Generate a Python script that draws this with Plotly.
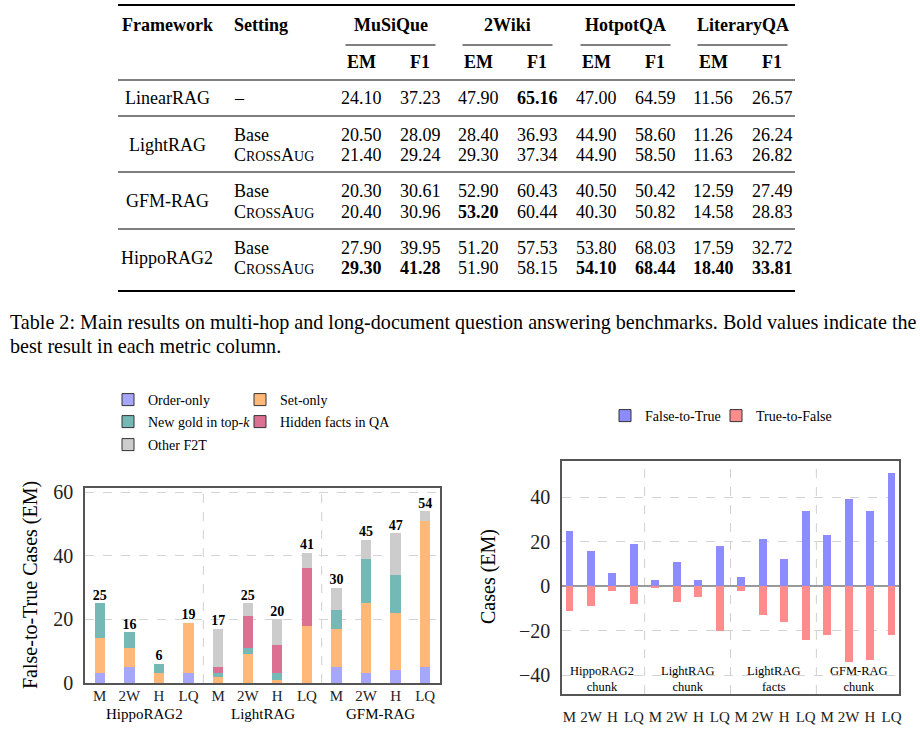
import plotly.graph_objects as go

W, H = 920, 729
FONT = 'Liberation Serif'

# ---------------- Table 2 data ----------------
datasets = ['MuSiQue', '2Wiki', 'HotpotQA', 'LiteraryQA']
metrics = ['EM', 'F1']
frameworks = ['LinearRAG', 'LightRAG', 'GFM-RAG', 'HippoRAG2']
settings = [['–'], ['Base', 'CrossAug'], ['Base', 'CrossAug'], ['Base', 'CrossAug']]
linearrag = [24.10, 37.23, 47.90, 65.16, 47.00, 64.59, 11.56, 26.57]
lightrag_base = [20.50, 28.09, 28.40, 36.93, 44.90, 58.60, 11.26, 26.24]
lightrag_aug = [21.40, 29.24, 29.30, 37.34, 44.90, 58.50, 11.63, 26.82]
gfmrag_base = [20.30, 30.61, 52.90, 60.43, 40.50, 50.42, 12.59, 27.49]
gfmrag_aug = [20.40, 30.96, 53.20, 60.44, 40.30, 50.82, 14.58, 28.83]
hipporag_base = [27.90, 39.95, 51.20, 57.53, 53.80, 68.03, 17.59, 32.72]
hipporag_aug = [29.30, 41.28, 51.90, 58.15, 54.10, 68.44, 18.40, 33.81]
caption = ['Table 2: Main results on multi-hop and long-document question answering benchmarks. Bold values indicate the',
           'best result in each metric column.']

# ---------------- left chart: false-to-true breakdown ----------------
f2t_groups = ['HippoRAG2', 'LightRAG', 'GFM-RAG']
short_names = ['M', '2W', 'H', 'LQ']
order_only = [3, 5, 0, 3, 0, 0, 0, 0, 5, 3, 4, 5]
set_only = [11, 6, 3, 16, 2, 9, 1, 18, 12, 22, 18, 46]
new_gold = [11, 5, 3, 0, 1, 2, 2, 0, 6, 14, 12, 0]
hidden_facts = [0, 0, 0, 0, 2, 10, 9, 18, 0, 0, 0, 0]
other_f2t = [0, 0, 0, 0, 12, 4, 8, 5, 7, 6, 13, 3]

# ---------------- right chart: F2T vs T2F ----------------
swap_groups = ['HippoRAG2<br>chunk', 'LightRAG<br>chunk', 'LightRAG<br>facts', 'GFM-RAG<br>chunk']
false_to_true = [25, 16, 6, 19, 3, 11, 3, 18, 4, 21, 12, 34, 23, 39, 34, 51]
true_to_false = [-11, -9, -2, -8, -1, -7, -5, -20, -2, -13, -16, -24, -22, -34, -33, -22]


def px(x):
    return x / W


def py(y):
    return 1 - y / H


ann = []
shapes = []


def text(x, y, s, size=18, anchor='center', bold=False, angle=0):
    ann.append(dict(x=px(x), y=py(y), xref='paper', yref='paper',
                    text=f'<b>{s}</b>' if bold else s, showarrow=False,
                    xanchor=anchor, yanchor='middle', textangle=angle,
                    font=dict(family=FONT, size=size, color='black')))


def rule(x0, x1, y, w):
    shapes.append(dict(type='line', xref='paper', yref='paper', x0=px(x0), x1=px(x1),
                       y0=py(y), y1=py(y), line=dict(color='black', width=w)))


def small_caps(s):
    if s != 'CrossAug':
        return s
    sm = "<span style='font-size:14px'>%s</span>"
    return 'C' + sm % 'ROSS' + 'A' + sm % 'UG'


# ---- table layout ----
col_x = [361, 420, 478, 537, 596, 655, 713, 772]
rule(118, 795, 5, 2)
text(167, 25, 'Framework', bold=True)
text(232, 25, 'Setting', bold=True, anchor='left')
for i, d in enumerate(datasets):
    cx = (col_x[2 * i] + col_x[2 * i + 1]) / 2
    text(cx, 25, d, bold=True)
    rule(cx - 45, cx + 45, 45, 1)
    for j, m in enumerate(metrics):
        text(col_x[2 * i + j], 62, m, bold=True)
rule(118, 795, 80, 1.2)

all_rows = [linearrag, lightrag_base, lightrag_aug, gfmrag_base, gfmrag_aug, hipporag_base, hipporag_aug]
col_max = [max(c) for c in zip(*all_rows)]
blocks = [[linearrag], [lightrag_base, lightrag_aug], [gfmrag_base, gfmrag_aug], [hipporag_base, hipporag_aug]]
block_y = [[98], [135, 155], [191, 212], [248, 268]]
block_rule = [116, 172, 229, 291]
for fw, sets, rows, ys, ry in zip(frameworks, settings, blocks, block_y, block_rule):
    text(167, sum(ys) / len(ys), fw)
    for s, row, y in zip(sets, rows, ys):
        text(232, y, small_caps(s), anchor='left')
        for v, cx, mx in zip(row, col_x, col_max):
            text(cx, y, f'{v:.2f}', bold=(v == mx))
    rule(118, 795, ry, 2 if ry == 291 else 1.2)

text(8, 322, caption[0], size=20.1, anchor='left')
text(8, 346, caption[1], size=20.1, anchor='left')

# ---- figure ----
fig = go.Figure()

x_left = list(range(len(order_only)))
left_series = [
    ('Order-only', order_only, '#a6a6fa'),
    ('Set-only', set_only, '#ffb878'),
    ('New gold in top-<i>k</i>', new_gold, '#74b9b6'),
    ('Hidden facts in QA', hidden_facts, '#db7093'),
    ('Other F2T', other_f2t, '#cccccc'),
]
for i, (name, vals, col) in enumerate(left_series):
    fig.add_trace(go.Bar(x=x_left, y=vals, width=0.35, marker=dict(color=col, line=dict(width=0)),
                         showlegend=False, xaxis='x', yaxis='y', hoverinfo='y'))
    fig.add_trace(go.Bar(x=[None], y=[None], name=name, legend='legend' if i == 0 else f'legend{i + 1}',
                         xaxis='x', yaxis='y', marker=dict(color=col, line=dict(color='#333333', width=1))))

totals = [sum(v) for v in zip(order_only, set_only, new_gold, hidden_facts, other_f2t)]
fig.add_trace(go.Scatter(x=x_left, y=totals, mode='text', text=[f'<b>{t}</b>' for t in totals],
                         textposition='top center', cliponaxis=False, showlegend=False,
                         textfont=dict(family=FONT, size=14, color='black'), xaxis='x', yaxis='y'))

x_right = list(range(len(false_to_true)))
right_series = [('False-to-True', false_to_true, '#8c8cff'), ('True-to-False', true_to_false, '#ff8c8c')]
for i, (name, vals, col) in enumerate(right_series):
    fig.add_trace(go.Bar(x=x_right, y=vals, width=0.37, marker=dict(color=col, line=dict(width=0)),
                         showlegend=False, xaxis='x2', yaxis='y2'))
    fig.add_trace(go.Bar(x=[None], y=[None], name=name, legend=f'legend{6 + i}', xaxis='x2', yaxis='y2',
                         marker=dict(color=col, line=dict(color='#333333', width=1))))

# group separators and labels
for g in range(1, len(f2t_groups)):
    shapes.append(dict(type='line', xref='x', yref='y domain', x0=4 * g - 0.5, x1=4 * g - 0.5, y0=0, y1=1,
                       line=dict(color='#d0d0d0', width=1, dash='dash'), layer='below'))
for g, name in enumerate(f2t_groups):
    ann.append(dict(x=4 * g + 1.5, y=py(714), xref='x', yref='paper', text=name, showarrow=False,
                    yanchor='middle', font=dict(family=FONT, size=15, color='black')))
for g in range(1, len(swap_groups)):
    shapes.append(dict(type='line', xref='x2', yref='y2 domain', x0=4 * g - 0.5, x1=4 * g - 0.5, y0=0, y1=1,
                       line=dict(color='#d0d0d0', width=1, dash='dash'), layer='below'))
for g, name in enumerate(swap_groups):
    ann.append(dict(x=4 * g + 1.5, y=py(679), xref='x2', yref='paper', text=name, showarrow=False,
                    yanchor='middle', font=dict(family=FONT, size=12.5, color='black')))

text(30, 585, 'False-to-True Cases (EM)', size=20, angle=-90)
text(488, 577, 'Cases (EM)', size=20, angle=-90)

axis_common = dict(showline=True, mirror=True, linecolor='#555555', linewidth=1.5, zeroline=False,
                   tickfont=dict(family=FONT, size=20, color='#222222'), ticks='', automargin=False)
leg_common = dict(orientation='h', xanchor='left', yanchor='middle', bgcolor='rgba(0,0,0,0)',
                  font=dict(family=FONT, size=14, color='black'), itemwidth=30, itemclick=False)

# legend anchor points (text starts ~40 px to the right)
legend_pos = [(108, 400), (240, 400), (108, 422), (240, 422), (108, 445), (605, 416), (716, 416)]
legends = {}
for i, (lx, ly) in enumerate(legend_pos):
    legends['legend' if i == 0 else f'legend{i + 1}'] = dict(leg_common, x=px(lx), y=py(ly))

fig.update_layout(
    width=W, height=H, margin=dict(l=0, r=0, t=0, b=0, pad=0), autosize=False,
    paper_bgcolor='white', plot_bgcolor='white',
    barmode='relative', bargap=0,
    xaxis=dict(axis_common, domain=[px(85), px(440)], range=[-0.5, 11.5], showgrid=False, anchor='y',
               tickvals=x_left, ticktext=short_names * 3, tickfont=dict(family=FONT, size=15, color='#222222'),
               ticklabelstandoff=-2),
    yaxis=dict(axis_common, domain=[py(683), py(488)], range=[0, 61.3], tickvals=[0, 20, 40, 60], anchor='x',
               showgrid=True, gridcolor='#d3d3d3', griddash='dash', ticklabelstandoff=6),
    xaxis2=dict(axis_common, domain=[px(562), px(899)], range=[-0.35, 15.35], showgrid=False, anchor='y2',
                tickvals=x_right, ticktext=short_names * 4, tickfont=dict(family=FONT, size=15, color='#222222'),
                ticklabelstandoff=8),
    yaxis2=dict(axis_common, domain=[py(694), py(461)], range=[-48.5, 56.3], tickvals=[-40, -20, 0, 20, 40],
                anchor='x2', showgrid=True, gridcolor='#d3d3d3', griddash='dash', zeroline=True,
                zerolinecolor='#999999', zerolinewidth=1.5, ticklabelstandoff=6),
    annotations=ann, shapes=shapes,
    **legends,
)

# the page body has a default 8px margin; drop it so the figure fills the window
fig.write_html('out.html', config={'displayModeBar': False},
               post_script="document.body.style.margin='0';")
